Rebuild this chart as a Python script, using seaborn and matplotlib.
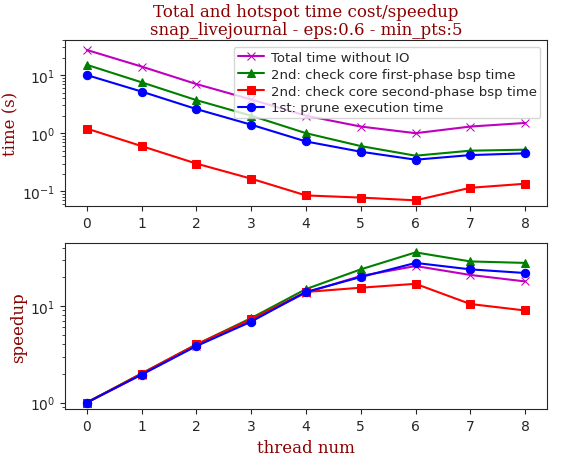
import matplotlib
matplotlib.use("Agg")
import matplotlib.pyplot as plt
import seaborn as sns

threads = [0, 1, 2, 3, 4, 5, 6, 7, 8]
labels = ["Total time without IO", "2nd: check core first-phase bsp time",
          "2nd: check core second-phase bsp time", "1st: prune execution time"]
colors = ["m", "g", "r", "b"]
markers = ["x", "^", "s", "o"]

total_time = [27, 14, 7, 3.8, 2.0, 1.3, 1.0, 1.3, 1.5]
first_phase = [15, 7.5, 3.7, 2.0, 1.0, 0.6, 0.41, 0.5, 0.52]
second_phase = [1.2, 0.6, 0.3, 0.165, 0.085, 0.078, 0.07, 0.115, 0.135]
prune_time = [10, 5.2, 2.6, 1.4, 0.72, 0.48, 0.35, 0.42, 0.45]

total_sp = [1, 1.95, 3.9, 7.1, 13.8, 20.5, 26, 21, 18]
first_sp = [1, 2, 4, 7.5, 15, 24, 36, 29, 28]
second_sp = [1, 2, 4, 7.3, 14, 15.5, 17, 10.5, 9]
prune_sp = [1, 1.95, 3.85, 6.9, 14, 20, 28, 24, 22]

sns.set_style("ticks")
title_font = {"family": "DejaVu Serif", "color": "darkred", "size": 12}

fig, (ax1, ax2) = plt.subplots(2, 1, figsize=(5.64, 4.56), dpi=100)

for ys, lab, c, m in zip([total_time, first_phase, second_phase, prune_time], labels, colors, markers):
    sns.lineplot(x=threads, y=ys, ax=ax1, color=c, marker=m, label=lab,
                 markeredgecolor=c, markersize=6)
for ys, lab, c, m in zip([total_sp, first_sp, second_sp, prune_sp], labels, colors, markers):
    sns.lineplot(x=threads, y=ys, ax=ax2, color=c, marker=m,
                 markeredgecolor=c, markersize=6)

ax1.set_yscale("log")
ax2.set_yscale("log")
ax1.set_ylim(0.055, 40)
ax2.set_ylim(0.85, 45)
for ax in (ax1, ax2):
    ax.set_xticks(threads)
    ax.set_xlim(-0.4, 8.4)
ax1.set_title("Total and hotspot time cost/speedup\nsnap_livejournal - eps:0.6 - min_pts:5",
              fontdict=title_font, pad=4, linespacing=1.1)
ax1.set_ylabel("time (s)", fontdict=title_font, labelpad=2)
ax2.set_ylabel("speedup", fontdict=title_font, labelpad=2)
ax2.set_xlabel("thread num", fontdict=title_font)
ax1.legend(loc="upper right", fontsize=9.5, framealpha=0.8, borderpad=0.3,
           handletextpad=0.5, labelspacing=0.3)
plt.subplots_adjust(left=0.115, right=0.97, top=0.91, bottom=0.1, hspace=0.22)
plt.savefig("out.png")
